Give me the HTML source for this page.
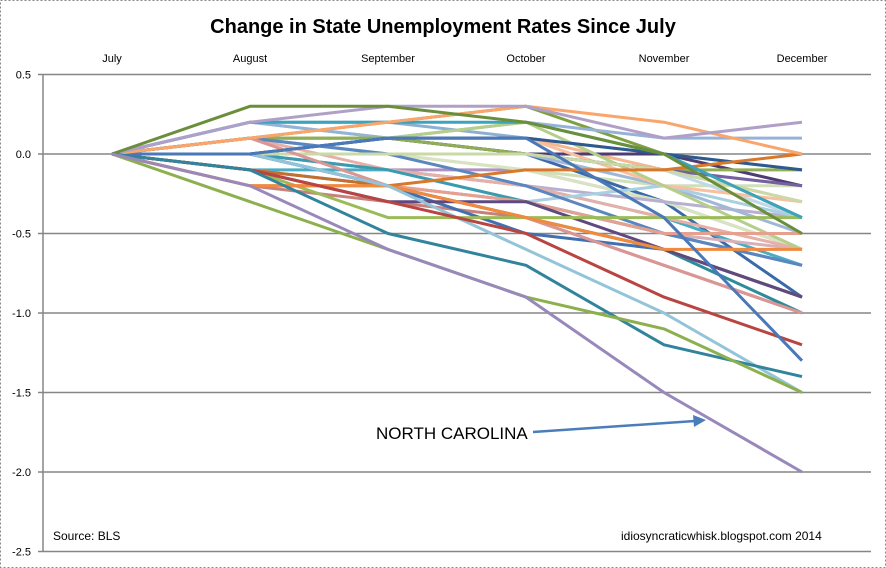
<!DOCTYPE html>
<html><head><meta charset="utf-8"><style>
body{margin:0;background:#fff}
svg{display:block;font-family:"Liberation Sans",sans-serif}
</style></head><body>
<svg id="chart" width="886" height="568" viewBox="0 0 886 568">
<rect x="0.5" y="0.5" width="885" height="567" fill="#fff" stroke="#888" stroke-dasharray="2,2"/>
<text x="443" y="33" text-anchor="middle" font-size="20" font-weight="bold" fill="#000">Change in State Unemployment Rates Since July</text>
<g id="grid"></g>
<g id="series"></g>
<text x="376" y="439" font-size="17" fill="#000">NORTH CAROLINA</text>
<line x1="533" y1="432" x2="695" y2="421" stroke="#4A7EBB" stroke-width="2.5"/>
<polygon points="706,420 693,415 694,427" fill="#4A7EBB"/>
<text x="53" y="540" font-size="12" fill="#000">Source: BLS</text>
<text x="621" y="540" font-size="12" fill="#000">idiosyncraticwhisk.blogspot.com  2014</text>
</svg>
<script>
const categories=["July","August","September","October","November","December"];
const yTicks=[0.5,0.0,-0.5,-1.0,-1.5,-2.0,-2.5];
const s01=[0,-0.2,-0.6,-0.9,-1.5,-2.0];
const s02=[0,-0.3,-0.6,-0.9,-1.1,-1.5];
const s03=[0,-0.1,-0.5,-0.7,-1.2,-1.4];
const s04=[0,0.3,0.3,0.2,0,-0.5];
const s05=[0,0.2,0.3,0.3,0.1,0.2];
const s06=[0,0.1,0.2,0.3,0.2,0];
const s07=[0,0.2,0.2,0.2,0,-0.4];
const s08=[0,0,0.1,0.1,-0.4,-1.3];
const s09=[0,-0.1,-0.3,-0.5,-0.9,-1.2];
const s10=[0,0,-0.2,-0.6,-1.0,-1.5];
const s11=[0,-0.2,-0.2,-0.4,-0.6,-0.6];
const s12=[0,-0.2,-0.2,-0.1,-0.1,0];
const s13=[0,-0.1,-0.4,-0.4,-0.4,-0.4];
const s14=[0,-0.1,-0.3,-0.3,-0.6,-0.9];
const s15=[0,-0.1,-0.2,-0.4,-0.6,-0.9];
const s16=[0,0.1,-0.2,-0.4,-0.7,-1.0];
const s17=[0,-0.1,-0.2,-0.3,-0.5,-0.5];
const s18=[0,0,0,0,-0.1,-0.3];
const s19=[0,0.1,0,-0.2,-0.5,-0.7];
const s20=[0,0,0.1,0.1,0,-0.1];
const s21=[0,0,0,0,-0.1,-0.2];
const s22=[0,0.1,0.1,0,-0.1,-0.1];
const s23=[0,0,-0.1,-0.3,-0.5,-0.7];
const s24=[0,0.1,0.1,0.2,-0.2,-0.6];
const s25=[0,0.2,0.1,0.2,0.1,0.1];
const s26=[0,0.1,0.1,0.1,-0.2,-0.3];
const s27=[0,0,-0.1,-0.3,-0.2,-0.4];
const s28=[0,0.1,0.1,0,0,-0.2];
const s29=[0,0.1,-0.1,-0.2,-0.4,-0.6];
const s30=[0,0,-0.2,-0.4,-0.6,-1.0];
const s31=[0,0,-0.2,-0.5,-0.6,-0.9];
const s32=[0,-0.1,-0.2,-0.3,-0.5,-0.6];
const s33=[0,0.1,0.2,0.3,0,-0.4];
const s34=[0,0.1,0,0,-0.1,-0.4];
const s35=[0,0,-0.2,-0.3,-0.5,-0.5];
const s36=[0,0.2,0.1,0,-0.2,-0.5];
const s37=[0,0,-0.1,-0.2,-0.3,-0.4];
const s38=[0,0.1,0,-0.1,-0.3,-0.6];
const s39=[0,-0.1,-0.1,-0.2,-0.4,-0.7];
const s40=[0,0.1,0.1,0.1,-0.1,-0.3];
const s41=[0,0,0.1,0,-0.3,-0.9];
const s42=[0,-0.2,-0.3,-0.4,-0.7,-1.0];
const s43=[0,0.2,0.2,0.1,0,-0.1];
const s44=[0,0,-0.1,-0.1,-0.3,-0.6];
const s45=[0,0.1,0,-0.1,-0.2,-0.2];
const seriesList=[s01,s02,s03,s04,s05,s06,s07,s08,s09,s10,s11,s12,s13,s14,s15,s16,s17,s18,s19,s20,s21,s22,s23,s24,s25,s26,s27,s28,s29,s30,s31,s32,s33,s34,s35,s36,s37,s38,s39,s40,s41,s42,s43,s44,s45];
const colors=["#9988BB","#8DB04F","#31849B","#6B8E3A","#B0A0C8","#FAA56C","#3CA3BE","#4A78B8","#B84542","#93C4D8","#F08A3E","#D9782A","#9BBB59","#5E4A80","#C07030","#D99694","#E6A090","#C9DAA8","#5B87C0","#2E5A8E","#7760A0","#8FAE55","#3A9BB0","#B5CF8A","#95B3D7","#F8C0A0","#A8D0E0","#4E3D70","#E6B0A8","#2F8A9A","#4070B0","#D8B0B8","#7FA040","#C0D8E8","#C8A0A8","#A0B8D8","#B8B0D0","#D8E4C0","#4BACC6","#F4B890","#3B6AA8","#C8807C","#8DB0D0","#B090C0","#CFDFB8"];
const NS="http://www.w3.org/2000/svg";
const x=i=>112+i*138;
const y=v=>154-v*159;
const grid=document.getElementById('grid');
yTicks.forEach(t=>{
  const l=document.createElementNS(NS,'line');
  l.setAttribute('x1',38);l.setAttribute('x2',871);l.setAttribute('y1',y(t));l.setAttribute('y2',y(t));
  l.setAttribute('stroke','#868686');l.setAttribute('stroke-width',1.5);
  
  
  grid.appendChild(l);
  const tx=document.createElementNS(NS,'text');
  tx.setAttribute('x',31);tx.setAttribute('y',y(t)+4);tx.setAttribute('text-anchor','end');tx.setAttribute('font-size',11);
  tx.textContent=t.toFixed(1);
  
  
  grid.appendChild(tx);
});
const ax=document.createElementNS(NS,'line');
ax.setAttribute('x1',43);ax.setAttribute('x2',43);ax.setAttribute('y1',y(0.5));ax.setAttribute('y2',y(-2.5));
ax.setAttribute('stroke','#868686');ax.setAttribute('stroke-width',1.5);


grid.appendChild(ax);
categories.forEach((c,i)=>{
  const tx=document.createElementNS(NS,'text');
  tx.setAttribute('x',x(i));tx.setAttribute('y',62);tx.setAttribute('text-anchor','middle');tx.setAttribute('font-size',11);
  tx.textContent=c;
  
  
  grid.appendChild(tx);
});
const sg=document.getElementById('series');
seriesList.slice().reverse().forEach((s,ri)=>{
  const k=seriesList.length-1-ri;
  const p=document.createElementNS(NS,'polyline');
  p.setAttribute('points',s.map((v,i)=>x(i)+','+y(v)).join(' '));
  p.setAttribute('fill','none');p.setAttribute('stroke',colors[k]);p.setAttribute('stroke-width',3);
  p.setAttribute('stroke-linejoin','round');
  
  
  sg.appendChild(p);
});
</script>
</body></html>
